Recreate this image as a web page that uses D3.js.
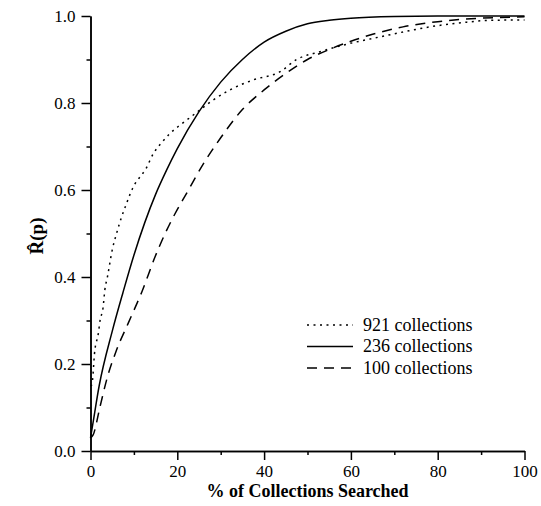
<!DOCTYPE html>
<html>
<head>
<meta charset="utf-8">
<script src="https://cdn.jsdelivr.net/npm/d3@7"></script>
<style>
  body { margin: 0; background: #fff; }
  text { font-family: "Liberation Serif", "Times New Roman", serif; }
</style>
</head>
<body>
<svg width="541" height="506"></svg>
<script>
// % of collections searched vs R^(p)
var pct921 = [0, 0.3, 1.0, 1.8, 2.2, 2.9, 3.3, 3.9, 5.0, 6.0, 7.2, 8.3, 9.1, 10.3, 11.4, 12.6, 14.5, 16.5, 18.3, 20.6, 22.2, 25.2, 28, 32.1, 37.5, 43.7, 47.5, 52.9, 59, 66.7, 72.9, 78.2, 85.9, 92, 100];
var r921   = [0.15, 0.152, 0.232, 0.27, 0.3, 0.33, 0.37, 0.40, 0.462, 0.5, 0.539, 0.569, 0.59, 0.615, 0.63, 0.646, 0.684, 0.71, 0.73, 0.749, 0.761, 0.784, 0.805, 0.83, 0.853, 0.872, 0.9, 0.918, 0.935, 0.952, 0.965, 0.975, 0.985, 0.99, 0.991];

var pct236 = [0, 0.5, 2, 5, 7.5, 10, 12.5, 15, 17.5, 20, 25, 30, 35, 40, 45, 50, 55, 60, 70, 80, 100];
var r236   = [0.03, 0.06, 0.15, 0.275, 0.365, 0.45, 0.525, 0.59, 0.645, 0.695, 0.78, 0.848, 0.9, 0.94, 0.965, 0.982, 0.99, 0.995, 0.999, 1.0, 1.0];

var pct100 = [0, 0.6, 2.2, 3.7, 6.0, 8.7, 11.8, 14.9, 17.2, 19.5, 22, 26, 30, 35, 40, 45, 50, 55, 60, 65, 72, 80, 90, 100];
var r100   = [0.03, 0.037, 0.102, 0.163, 0.232, 0.294, 0.365, 0.447, 0.5, 0.546, 0.59, 0.66, 0.72, 0.785, 0.83, 0.868, 0.9, 0.923, 0.942, 0.958, 0.975, 0.987, 0.995, 0.998];

var seriesNames = ["921 collections", "236 collections", "100 collections"];
var xTicks = [0, 20, 40, 60, 80, 100];
var yTicks = [0.0, 0.2, 0.4, 0.6, 0.8, 1.0];

var svg = d3.select("svg"),
    plotLeft = 90.5, plotRight = 524.5, plotTop = 16, plotBottom = 451;

var xScale = d3.scaleLinear().domain([0, 100]).range([plotLeft, plotRight]),
    yScale = d3.scaleLinear().domain([0, 1]).range([plotBottom, plotTop]);

// minor ticks first, then major
svg.append("g")
   .attr("transform", "translate(0," + plotBottom + ")")
   .call(d3.axisBottom(xScale).tickValues(d3.range(10, 100, 20)).tickSize(4).tickSizeOuter(0).tickFormat(""));
svg.append("g")
   .attr("transform", "translate(" + plotLeft + ",0)")
   .call(d3.axisLeft(yScale).tickValues(d3.range(0.1, 1, 0.2)).tickSize(4).tickSizeOuter(0).tickFormat(""));

svg.append("g")
   .attr("transform", "translate(0," + plotBottom + ")")
   .call(d3.axisBottom(xScale).tickValues(xTicks).tickSize(9).tickSizeOuter(0).tickPadding(5).tickFormat(d3.format("d")));
svg.append("g")
   .attr("transform", "translate(" + plotLeft + ",0)")
   .call(d3.axisLeft(yScale).tickValues(yTicks).tickSize(9).tickSizeOuter(0).tickPadding(6).tickFormat(d3.format(".1f")));

svg.selectAll(".domain, .tick line").attr("stroke", "#000").attr("stroke-width", 1.5);
svg.selectAll(".tick text").attr("font-family", "Liberation Serif").attr("font-size", "17px").attr("fill", "#000");

svg.append("text")
   .attr("x", (plotLeft + plotRight) / 2)
   .attr("y", 497)
   .attr("text-anchor", "middle")
   .attr("font-size", "18px")
   .attr("font-weight", "bold")
   .text("% of Collections Searched");

svg.append("text")
   .attr("transform", "translate(43,236) rotate(-90)")
   .attr("text-anchor", "middle")
   .attr("font-size", "19px")
   .attr("font-weight", "bold")
   .text("R\u0302(p)");

var styles = [
  { x: pct921, y: r921, dash: "2,4.5" },
  { x: pct236, y: r236, dash: null },
  { x: pct100, y: r100, dash: "10,7" }
];

var line = d3.line()
   .x(function(d) { return xScale(d[0]); })
   .y(function(d) { return yScale(d[1]); })
   .curve(d3.curveMonotoneX);

styles.forEach(function(s) {
  svg.append("path")
     .datum(d3.zip(s.x, s.y))
     .attr("fill", "none")
     .attr("stroke", "#000")
     .attr("stroke-width", 1.5)
     .attr("stroke-dasharray", s.dash)
     .attr("d", line);
});

// legend
var legend = svg.append("g").attr("transform", "translate(307,325)");
seriesNames.forEach(function(name, i) {
  var row = legend.append("g").attr("transform", "translate(0," + (i * 21.5) + ")");
  row.append("line")
     .attr("x1", 0).attr("x2", 46).attr("y1", 0).attr("y2", 0)
     .attr("stroke", "#000").attr("stroke-width", 1.5)
     .attr("stroke-dasharray", styles[i].dash);
  row.append("text")
     .attr("x", 56).attr("y", 5.5)
     .attr("font-size", "18px")
     .text(name);
});
</script>
</body>
</html>
